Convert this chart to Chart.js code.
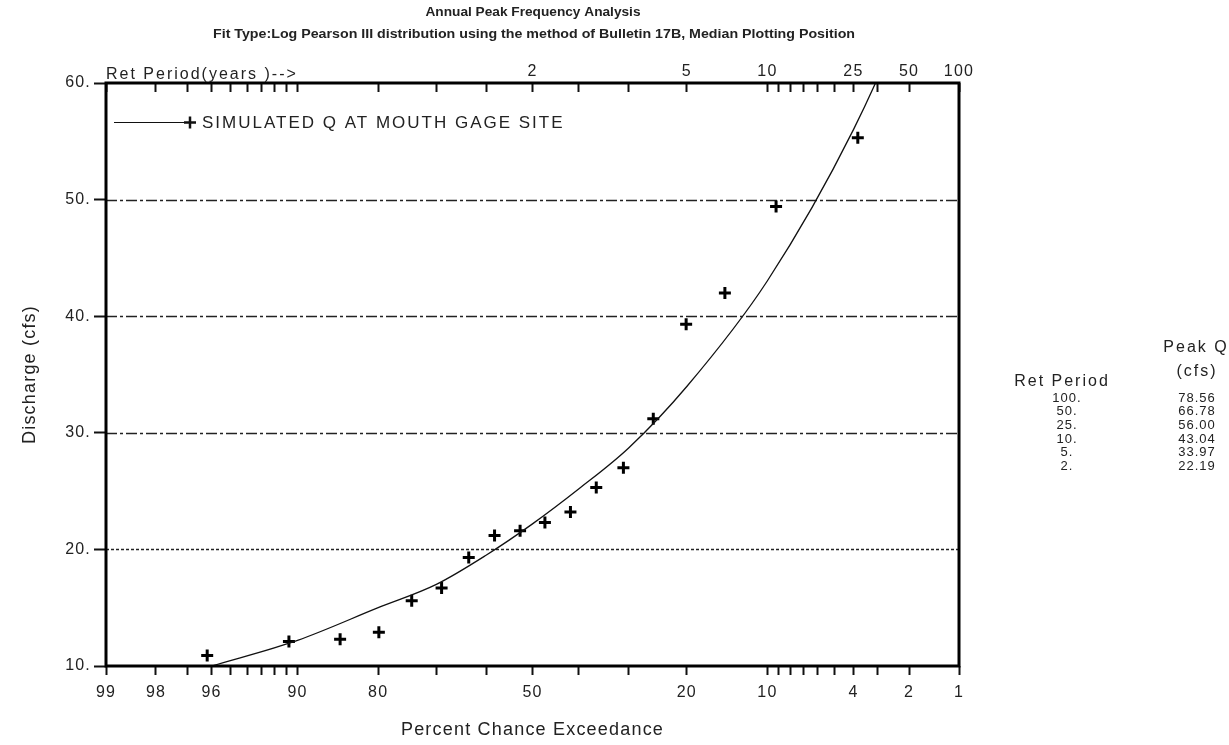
<!DOCTYPE html>
<html>
<head>
<meta charset="utf-8">
<script src="https://cdn.jsdelivr.net/npm/chart.js@4.4.1/dist/chart.umd.min.js"></script>
<style>
    html, body { margin: 0; padding: 0; background: #fff; }
    canvas { display: block; }
</style>
</head>
<body>
<canvas id="freqChart" width="1229" height="745"></canvas>
<script>
// observed annual peaks (percent chance exceedance, median plotting position)
const obsExceedance = [96.2, 90.8, 85.3, 79.9, 74.5, 69.0, 63.6, 58.2, 52.7, 47.3, 41.8, 36.4, 31.0, 25.5, 20.1, 14.7, 9.2, 3.8];
const obsDischarge = [10.9, 12.1, 12.3, 12.9, 15.6, 16.7, 19.3, 21.2, 21.6, 22.3, 23.2, 25.3, 27.0, 31.2, 39.3, 42.0, 49.4, 55.3];

// fitted LP3 curve
const fitExceedance = [96, 90, 80, 70, 60, 50, 40, 30, 20, 10, 4, 2, 1];
const fitDischarge = [10.0, 12.2, 15.0, 17.0, 19.5, 22.19, 25.2, 28.7, 33.97, 43.04, 56.00, 66.78, 78.56];

// axis ticks
const exceedTicks = [99, 98, 97, 96, 95, 94, 93, 92, 91, 90, 80, 70, 60, 50, 40, 30, 20, 10, 9, 8, 7, 6, 5, 4, 3, 2, 1];
const exceedLabels = [99, 98, 96, 90, 80, 50, 20, 10, 4, 2, 1];
const retPeriodTicks = [50, 20, 10, 4, 2, 1];
const retPeriodLabels = ['2', '5', '10', '25', '50', '100'];
const dischargeTicks = [10, 20, 30, 40, 50, 60];
const gridValues = [20, 30, 40, 50];

// side table
const tablePeriods = ['100.', '50.', '25.', '10.', '5.', '2.'];
const tablePeakQ = ['78.56', '66.78', '56.00', '43.04', '33.97', '22.19'];

const FONT = "'Liberation Sans', Arial, sans-serif";

// inverse standard normal (Acklam)
function normInv(p) {
    const a = [-39.69683028665376, 220.9460984245205, -275.9285104469687, 138.357751867269, -30.66479806614716, 2.506628274631];
    const b = [-54.47609879822406, 161.5858368580409, -155.6989798598866, 66.80131188771972, -13.28068155288572];
    const c = [-0.007784894002430293, -0.3223964580411365, -2.400758277161838, -2.549732539343734, 4.374664141464968, 2.938163982698783];
    const d = [0.007784695709041462, 0.3224671290700398, 2.445134137142996, 3.754408661907416];
    const pl = 0.02425;
    let q, r;
    if (p < pl) {
        q = Math.sqrt(-2 * Math.log(p));
        return (((((c[0] * q + c[1]) * q + c[2]) * q + c[3]) * q + c[4]) * q + c[5]) / ((((d[0] * q + d[1]) * q + d[2]) * q + d[3]) * q + 1);
    }
    if (p <= 1 - pl) {
        q = p - 0.5; r = q * q;
        return (((((a[0] * r + a[1]) * r + a[2]) * r + a[3]) * r + a[4]) * r + a[5]) * q / (((((b[0] * r + b[1]) * r + b[2]) * r + b[3]) * r + b[4]) * r + 1);
    }
    q = Math.sqrt(-2 * Math.log(1 - p));
    return -(((((c[0] * q + c[1]) * q + c[2]) * q + c[3]) * q + c[4]) * q + c[5]) / ((((d[0] * q + d[1]) * q + d[2]) * q + d[3]) * q + 1);
}

// probability scale: value = percent chance exceedance, 99 on the left
const LinearScale = Chart.LinearScale || Chart.registry.getScale('linear');
class ProbabilityScale extends LinearScale {
    determineDataLimits() {
        this.min = this.options.min;
        this.max = this.options.max;
    }
    buildTicks() {
        return this.options.tickValues.map(v => ({ value: v }));
    }
    getPixelForValue(value) {
        const a = normInv(1 - this.max / 100);
        const b = normInv(1 - this.min / 100);
        return this.getPixelForDecimal((normInv(1 - value / 100) - a) / (b - a));
    }
    getValueForPixel(pixel) {
        const a = normInv(1 - this.max / 100);
        const b = normInv(1 - this.min / 100);
        const z = a + this.getDecimalForPixel(pixel) * (b - a);
        let lo = 0.0001, hi = 0.9999;
        for (let i = 0; i < 50; i++) {
            const mid = (lo + hi) / 2;
            if (normInv(mid) < z) lo = mid; else hi = mid;
        }
        return 100 * (1 - lo);
    }
}
ProbabilityScale.id = 'probability';
ProbabilityScale.defaults = LinearScale.defaults;
Chart.register(ProbabilityScale);

// draw text squeezed/stretched to a given width
function fitText(ctx, text, cx, cy, width) {
    const w = ctx.measureText(text).width;
    ctx.save();
    ctx.translate(cx, cy);
    ctx.scale(width / w, 1);
    ctx.fillText(text, 0, 0);
    ctx.restore();
}

const decorPlugin = {
    id: 'decor',
    beforeDraw(chart) {
        chart.ctx.letterSpacing = '1.2px';
    },
    beforeDatasetsDraw(chart) {
        const ctx = chart.ctx;
        const area = chart.chartArea;
        const y = chart.scales.y;
        ctx.save();
        ctx.strokeStyle = '#222';
        ctx.lineWidth = 1.5;
        gridValues.forEach(v => {
            const py = Math.round(y.getPixelForValue(v)) + 0.5;
            ctx.setLineDash(v === 20 ? [3, 2] : [11, 3, 3, 3]);
            ctx.beginPath();
            ctx.moveTo(area.left, py);
            ctx.lineTo(area.right, py);
            ctx.stroke();
        });
        ctx.restore();
    },
    afterDraw(chart) {
        const ctx = chart.ctx;
        const area = chart.chartArea;
        ctx.save();

        // frame
        ctx.strokeStyle = '#000';
        ctx.lineWidth = 3;
        ctx.strokeRect(area.left, area.top, area.right - area.left, area.bottom - area.top);

        // titles
        ctx.fillStyle = '#222';
        ctx.textAlign = 'center';
        ctx.textBaseline = 'middle';
        ctx.letterSpacing = '0px';
        ctx.font = 'bold 13px ' + FONT;
        fitText(ctx, 'Annual Peak Frequency Analysis', 533, 12, 215);
        fitText(ctx, 'Fit Type:Log Pearson III distribution using the method of Bulletin 17B, Median Plotting Position', 534, 34, 642);

        // top axis caption
        ctx.letterSpacing = '2px';
        ctx.textAlign = 'left';
        ctx.textBaseline = 'alphabetic';
        ctx.font = '16px ' + FONT;
        ctx.fillText('Ret Period(years )-->', 106, 79);

        // legend
        ctx.strokeStyle = '#111';
        ctx.lineWidth = 1.2;
        ctx.beginPath();
        ctx.moveTo(114, 122.5);
        ctx.lineTo(190, 122.5);
        ctx.stroke();
        ctx.lineWidth = 2.5;
        ctx.beginPath();
        ctx.moveTo(184, 122.5); ctx.lineTo(196, 122.5);
        ctx.moveTo(190, 116.5); ctx.lineTo(190, 128.5);
        ctx.stroke();
        ctx.textBaseline = 'middle';
        ctx.font = '17px ' + FONT;
        ctx.fillText('SIMULATED Q AT MOUTH GAGE SITE', 202, 123);

        // return period table
        ctx.textAlign = 'center';
        ctx.font = '16px ' + FONT;
        ctx.fillText('Peak Q', 1196, 348);
        ctx.fillText('(cfs)', 1197, 372);
        ctx.fillText('Ret Period', 1062, 382);
        ctx.letterSpacing = '1px';
        ctx.font = '13px ' + FONT;
        tablePeriods.forEach((t, i) => {
            ctx.fillText(t, 1067, 398 + i * 13.7);
            ctx.fillText(tablePeakQ[i], 1197, 398 + i * 13.7);
        });
        ctx.restore();
    }
};

const ctx = document.getElementById('freqChart').getContext('2d');
new Chart(ctx, {
    type: 'line',
    data: {
        datasets: [{
            label: 'Fitted',
            data: fitExceedance.map((p, i) => ({ x: p, y: fitDischarge[i] })),
            borderColor: '#111',
            borderWidth: 1.3,
            pointRadius: 0,
            cubicInterpolationMode: 'monotone',
            fill: false
        }, {
            label: 'SIMULATED Q AT MOUTH GAGE SITE',
            data: obsExceedance.map((p, i) => ({ x: p, y: obsDischarge[i] })),
            showLine: false,
            pointStyle: 'cross',
            pointRadius: 6,
            pointBorderWidth: 3,
            pointBorderColor: '#000',
            pointBackgroundColor: '#000'
        }]
    },
    options: {
        responsive: false,
        animation: false,
        layout: { padding: { left: 0, right: 270, top: 0, bottom: 0 } },
        plugins: {
            legend: { display: false },
            title: { display: false },
            tooltip: { enabled: false }
        },
        scales: {
            x: {
                type: 'probability',
                position: 'bottom',
                min: 1,
                max: 99,
                tickValues: exceedTicks,
                afterFit: scale => { scale.height = 79; },
                border: { display: false },
                grid: {
                    drawOnChartArea: false,
                    drawTicks: true,
                    tickLength: 9,
                    tickWidth: 2,
                    tickColor: '#111'
                },
                ticks: {
                    autoSkip: false,
                    maxRotation: 0,
                    padding: 8,
                    color: '#222',
                    font: { family: FONT, size: 16 },
                    callback: v => exceedLabels.includes(v) ? String(v) : ''
                },
                title: {
                    display: true,
                    text: 'Percent Chance Exceedance',
                    color: '#222',
                    font: { family: FONT, size: 18 },
                    padding: { top: 0, bottom: 4 }
                }
            },
            x2: {
                type: 'probability',
                position: 'top',
                min: 1,
                max: 99,
                tickValues: exceedTicks,
                afterFit: scale => { scale.height = 83; },
                border: { display: false },
                grid: {
                    drawOnChartArea: false,
                    drawTicks: true,
                    tickLength: -9,
                    tickWidth: 2,
                    tickColor: '#111'
                },
                ticks: {
                    autoSkip: false,
                    maxRotation: 0,
                    padding: 11,
                    color: '#222',
                    font: { family: FONT, size: 16 },
                    callback: v => {
                        const k = retPeriodTicks.indexOf(v);
                        return k >= 0 ? retPeriodLabels[k] : '';
                    }
                }
            },
            y: {
                type: 'linear',
                position: 'left',
                min: 10,
                max: 60,
                afterFit: scale => { scale.width = 106; },
                afterBuildTicks: scale => { scale.ticks = dischargeTicks.map(v => ({ value: v })); },
                border: { display: false },
                grid: {
                    drawOnChartArea: false,
                    drawTicks: true,
                    tickLength: 12,
                    tickWidth: 2,
                    tickColor: '#111'
                },
                ticks: {
                    padding: 3,
                    color: '#222',
                    font: { family: FONT, size: 16 },
                    callback: v => v + '.'
                },
                title: {
                    display: true,
                    text: 'Discharge (cfs)',
                    color: '#222',
                    font: { family: FONT, size: 18 },
                    padding: { top: 19, bottom: 0 }
                }
            }
        }
    },
    plugins: [decorPlugin]
});
</script>
</body>
</html>
